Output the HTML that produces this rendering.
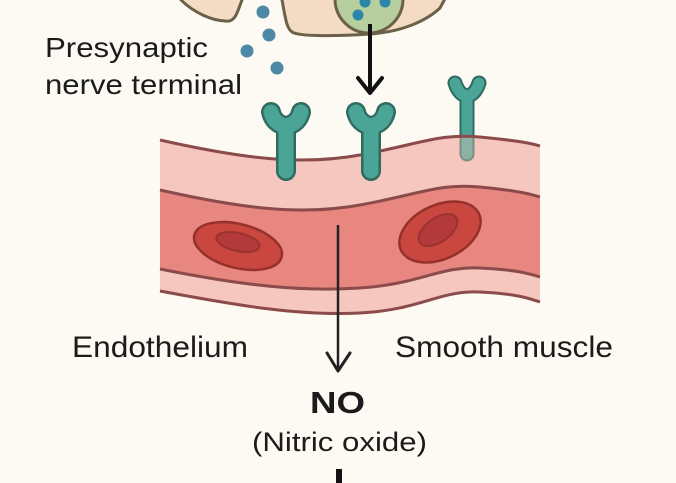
<!DOCTYPE html>
<html>
<head>
<meta charset="utf-8">
<style>
html,body{margin:0;padding:0;background:#fcfaf3;}
svg{display:block;}
text{font-family:"Liberation Sans",sans-serif;fill:#1b1b1b;}
</style>
</head>
<body>
<svg width="676" height="483" viewBox="0 0 676 483" xmlns="http://www.w3.org/2000/svg">
  <defs>
    <clipPath id="band">
      <path d="M160,140 C240,158 300,166 360,155 S440,133 480,137 S530,143 540,146 L540,302 L160,302 Z"/>
    </clipPath>
  </defs>
  <rect x="0" y="0" width="676" height="483" fill="#fcfaf3"/>

  <!-- Nerve terminal blob -->
  <path d="M178,-5 L181,0 C193,12 213,22 229,21 C236,20 238,10 242,0 L244,-5 Z" fill="#f4dcc4" stroke="#6b6148" stroke-width="3" stroke-linejoin="round"/>
  <path d="M280,-5 L282,0 C285,15 286,28 292,32 C300,37 340,36 370,34 C400,32 425,22 440,8 L447,-5 Z" fill="#f4dcc4" stroke="#6b6148" stroke-width="3" stroke-linejoin="round"/>
  <circle cx="369" cy="-1" r="34" fill="#b7cf9f" stroke="#6b6148" stroke-width="3"/>
  <circle cx="365" cy="2" r="5.5" fill="#2b86a8"/>
  <circle cx="385" cy="2" r="5.5" fill="#2b86a8"/>
  <circle cx="358" cy="15" r="5.5" fill="#2b86a8"/>

  <!-- released dots -->
  <circle cx="263" cy="12" r="6.5" fill="#4b89a6"/>
  <circle cx="269" cy="35" r="6.5" fill="#4b89a6"/>
  <circle cx="247" cy="51" r="6.5" fill="#4b89a6"/>
  <circle cx="277" cy="68" r="6.5" fill="#4b89a6"/>

  <!-- top arrow -->
  <line x1="370" y1="24" x2="370" y2="92" stroke="#111" stroke-width="4"/>
  <polyline points="358,78 370,93 382,78" fill="none" stroke="#111" stroke-width="4" stroke-linecap="round" stroke-linejoin="round"/>

  <!-- Vessel outer band -->
  <path d="M160,140 C240,158 300,166 360,155 S440,133 480,137 S530,143 540,146 L540,302 C530,299 520,296 480,292 C440,290 420,310 360,313 C300,316 240,306 160,291 Z" fill="#f6c7be"/>
  <!-- Vessel middle band -->
  <path d="M160,190 C240,208 300,216 360,205 S440,183 480,187 S530,194 540,197 L540,277 C530,274 520,270 480,268 C440,266 420,284 360,288 C300,292 240,285 160,269 Z" fill="#e7877f"/>

  <!-- Receptor 3 (over vessel, translucent inside) -->
  <path d="M455,83 Q459,95 467,96 Q475,95 479,83 M467,96 L467,154" fill="none" stroke="#2f6b60" stroke-width="15" stroke-linecap="round" stroke-linejoin="round"/>
  <path d="M455,83 Q459,95 467,96 Q475,95 479,83 M467,96 L467,154" fill="none" stroke="#4aa596" stroke-width="11" stroke-linecap="round" stroke-linejoin="round"/>
  <rect x="455" y="120" width="25" height="50" fill="#f6c7be" opacity="0.38" clip-path="url(#band)"/>

  <!-- vessel lines -->
  <g fill="none" stroke="#8c4b4b" stroke-width="3">
    <path d="M160,140 C240,158 300,166 360,155 S440,133 480,137 S530,143 540,146"/>
    <path d="M160,190 C240,208 300,216 360,205 S440,183 480,187 S530,194 540,197"/>
    <path d="M160,269 C240,285 300,292 360,288 S440,266 480,268 S530,274 540,277"/>
    <path d="M160,291 C240,306 300,316 360,313 S440,290 480,292 S530,299 540,302"/>
  </g>

  <!-- red cells -->
  <ellipse cx="238" cy="246" rx="45" ry="22" transform="rotate(14 238 246)" fill="#c9473f" stroke="#95302d" stroke-width="2.5"/>
  <ellipse cx="238" cy="242" rx="22" ry="9" transform="rotate(12 238 242)" fill="#b3393a" stroke="#9a3330" stroke-width="2"/>
  <ellipse cx="440" cy="232" rx="43" ry="27" transform="rotate(-25 440 232)" fill="#c9473f" stroke="#95302d" stroke-width="2.5"/>
  <ellipse cx="438" cy="230" rx="22" ry="12" transform="rotate(-35 438 230)" fill="#b3393a" stroke="#9a3330" stroke-width="2"/>

  <!-- Receptors 1 & 2 -->
  <g fill="none" stroke-linecap="round" stroke-linejoin="round">
    <path d="M271,112 Q274,124 286,126 Q298,124 301,112 M286,126 L286,171" stroke="#2f6b60" stroke-width="20"/>
    <path d="M271,112 Q274,124 286,126 Q298,124 301,112 M286,126 L286,171" stroke="#4aa596" stroke-width="15"/>
    <path d="M356,112 Q359,124 371,126 Q383,124 386,112 M371,126 L371,171" stroke="#2f6b60" stroke-width="20"/>
    <path d="M356,112 Q359,124 371,126 Q383,124 386,112 M371,126 L371,171" stroke="#4aa596" stroke-width="15"/>
  </g>

  <!-- middle arrow -->
  <line x1="338" y1="225" x2="338" y2="370" stroke="#222" stroke-width="2.5"/>
  <polyline points="327,353 338,371 350,353" fill="none" stroke="#222" stroke-width="3" stroke-linecap="round" stroke-linejoin="round"/>

  <!-- bottom bar -->
  <line x1="339" y1="469" x2="339" y2="486" stroke="#111" stroke-width="6"/>

  <!-- labels -->
  <text x="45" y="57" font-size="28" textLength="163" lengthAdjust="spacingAndGlyphs">Presynaptic</text>
  <text x="45" y="94" font-size="28" textLength="197" lengthAdjust="spacingAndGlyphs">nerve terminal</text>
  <text x="72" y="357" font-size="30" textLength="176" lengthAdjust="spacingAndGlyphs">Endothelium</text>
  <text x="395" y="357" font-size="30" textLength="218" lengthAdjust="spacingAndGlyphs">Smooth muscle</text>
  <text x="310" y="413" font-size="31" font-weight="bold" textLength="55" lengthAdjust="spacingAndGlyphs">NO</text>
  <text x="252" y="451" font-size="27" textLength="175" lengthAdjust="spacingAndGlyphs">(Nitric oxide)</text>
</svg>
</body>
</html>
